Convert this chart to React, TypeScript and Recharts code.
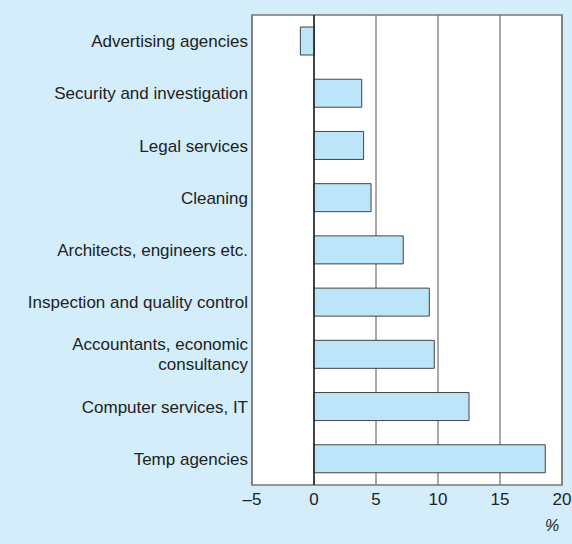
import React from 'react';
import { BarChart, Bar, XAxis, YAxis, CartesianGrid, ReferenceLine, ReferenceArea } from 'recharts';

const categories = [
  'Advertising agencies',
  'Security and investigation',
  'Legal services',
  'Cleaning',
  'Architects, engineers etc.',
  'Inspection and quality control',
  'Accountants, economic\nconsultancy',
  'Computer services, IT',
  'Temp agencies',
];
const values = [-1.1, 3.85, 4.0, 4.6, 7.2, 9.3, 9.7, 12.5, 18.65];
const xTicks = [-5, 0, 5, 10, 15, 20];

const data = categories.map((name, i) => ({ name, value: values[i] }));

const CategoryTick = (props: any) => {
  const { x, y, payload } = props;
  const lines = String(payload.value).split('\n');
  const lh = 20;
  const start = -((lines.length - 1) * lh) / 2;
  const tx = x + 6;
  return (
    <text x={tx} y={y} textAnchor="end" fill="#222" fontSize={17} fontFamily="'Liberation Sans', Arial, sans-serif">
      {lines.map((l, i) => (
        <tspan key={i} x={tx} y={y + start + i * lh} dy="0.35em">{l}</tspan>
      ))}
    </text>
  );
};

const fmt = (v: number) => (v < 0 ? '\u2013' + Math.abs(v) : String(v));

export default function App() {
  return (
    <div style={{ position: 'fixed', left: 0, top: 0, width: 572, height: 544, background: '#d4edfa' }}>
      <BarChart
        width={572}
        height={544}
        data={data}
        layout="vertical"
        margin={{ top: 15, right: 10, bottom: 29, left: 0 }}
      >
        <CartesianGrid horizontal={false} vertical={true} stroke="#555" fill="#ffffff" />
        <XAxis
          type="number"
          domain={[-5, 20]}
          ticks={xTicks}
          tickFormatter={fmt}
          axisLine={false}
          tickLine={false}
          tickMargin={2}
          height={30}
          tick={{ fill: '#222', fontSize: 17, fontFamily: "'Liberation Sans', Arial, sans-serif" }}
        />
        <YAxis
          type="category"
          dataKey="name"
          width={252}
          axisLine={false}
          tickLine={false}
          tickMargin={4}
          tick={<CategoryTick />}
          interval={0}
        />
        <ReferenceArea x1={-5} x2={20} fill="none" stroke="#777" strokeWidth={1.5} />
        <Bar dataKey="value" barSize={28} fill="#bce5f9" stroke="#444" strokeWidth={1} isAnimationActive={false} />
        <ReferenceLine x={0} stroke="#222" strokeWidth={1.5} />
      </BarChart>
      <div
        style={{
          position: 'absolute',
          left: 545,
          top: 517,
          fontSize: 16,
          fontStyle: 'italic',
          color: '#222',
          fontFamily: "'Liberation Sans', Arial, sans-serif",
        }}
      >
        %
      </div>
    </div>
  );
}
